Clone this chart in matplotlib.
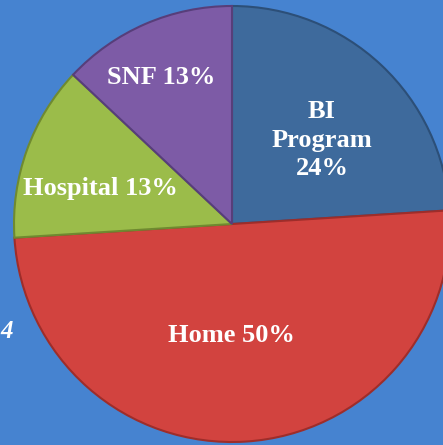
import matplotlib
matplotlib.use("Agg")
import matplotlib.pyplot as plt

# discharge destination shares (%)
labels = ["BI\nProgram", "Home", "Hospital", "SNF"]
shares = [24, 50, 13, 13]
label_text = ["BI\nProgram\n24%", "Home 50%", "Hospital 13%", "SNF 13%"]

colors = ["#3e6a9c", "#d2433f", "#9bbc4a", "#7d5ba6"]
edge_colors = ["#2c4f78", "#9e2d2a", "#6f8a30", "#573e7a"]
label_xy = [(322, 140), (231, 336), (100, 188), (161, 77)]  # pixel coords, y from top

W, H = 443, 445
bg = "#4683d0"

fig = plt.figure(figsize=(W / 100, H / 100), dpi=100, facecolor=bg)
ax = fig.add_axes([0, 0, 1, 1])
ax.set_facecolor(bg)

cx, cy, r = 232, H - 224, 218

wedges, _ = ax.pie(shares, colors=colors, startangle=90, counterclock=False,
                   center=(cx, cy), radius=r, frame=True,
                   wedgeprops=dict(linewidth=1.5))
for w, ec in zip(wedges, edge_colors):
    w.set_edgecolor(ec)
ax.set_xlim(0, W)
ax.set_ylim(0, H)
ax.set_aspect("equal")
ax.axis("off")

for txt, (x, y) in zip(label_text, label_xy):
    ax.text(x, H - y, txt, ha="center", va="center", color="white",
            fontsize=19, fontweight="bold", family="Liberation Serif",
            linespacing=1.3)

# caption fragment at left edge
ax.text(0, H - 332, "4", ha="left", va="center", color="white",
        fontsize=18, fontweight="bold", fontstyle="italic", family="Liberation Serif")

fig.savefig("out.png", dpi=100, facecolor=bg)
